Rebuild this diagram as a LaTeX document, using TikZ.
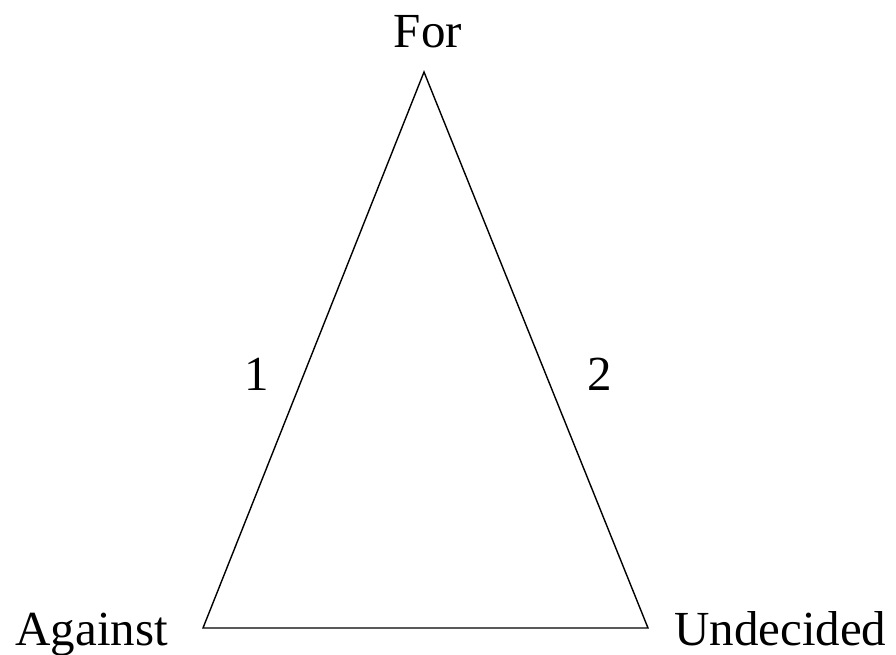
\documentclass[tikz,border=0pt]{standalone}
\usepackage{fontspec}
\setmainfont{Liberation Serif}
\begin{document}
\begin{tikzpicture}[x=1pt,y=-1pt,
  lbl/.style={font=\fontsize{49}{54}\selectfont, inner sep=0pt, anchor=base},
  edge/.style={line width=1.4pt}]
\useasboundingbox (0,0) rectangle (896,655);
\coordinate (top) at (424,72);
\coordinate (bl) at (203,628);
\coordinate (br) at (648,628);
\draw[edge] (top) -- (bl) -- (br) -- cycle;
\node[lbl] (for) at (428,48) {For};
\node[lbl] (one) at (257,390) {1};
\node[lbl] (two) at (600,390) {2};
\node[lbl, anchor=base east] (against) at (168,645) {Against};
\node[lbl, anchor=base west] (und) at (674,645) {Undecided};
\end{tikzpicture}
\end{document}
